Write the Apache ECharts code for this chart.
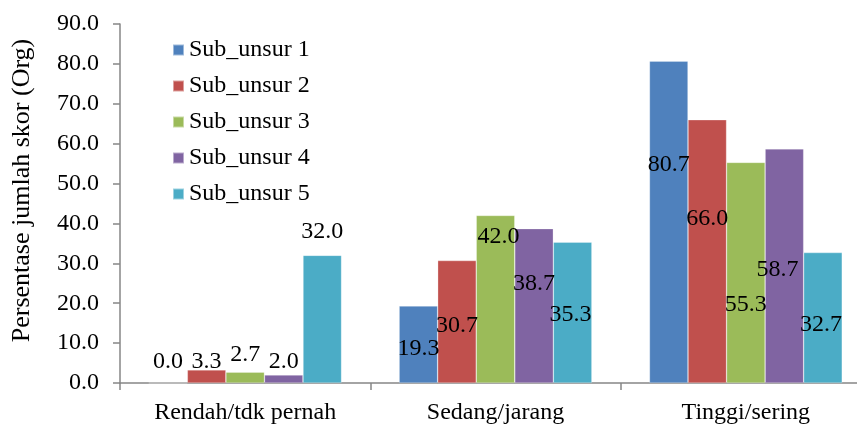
<!DOCTYPE html>
<html>
<head>
<meta charset="utf-8">
<script src="https://cdn.jsdelivr.net/npm/echarts@6/dist/echarts.min.js"></script>
<style>
  html, body { margin: 0; padding: 0; background: #fff; }
  #chart { width: 857px; height: 424px; }
</style>
</head>
<body>
<div id="chart"></div>
<script>
// Categories and series values
var categories = ['Rendah/tdk pernah', 'Sedang/jarang', 'Tinggi/sering'];
var seriesNames = ['Sub_unsur 1', 'Sub_unsur 2', 'Sub_unsur 3', 'Sub_unsur 4', 'Sub_unsur 5'];
var sub1 = [0.0, 19.3, 80.7];
var sub2 = [3.3, 30.7, 66.0];
var sub3 = [2.7, 42.0, 55.3];
var sub4 = [2.0, 38.7, 58.7];
var sub5 = [32.0, 35.3, 32.7];
var yTicks = [0, 10, 20, 30, 40, 50, 60, 70, 80, 90];

var seriesValues = [sub1, sub2, sub3, sub4, sub5];
var colors = ['#4F81BD', '#C0504D', '#9BBB59', '#8064A2', '#4BACC6'];

// Hand-placed data label nudges (px) per series, per category: [dx, dy] from the bar top
var labelNudge = [
  [[0, -10], [0, 54], [0, 115]],
  [[0, 3], [0, 76], [0, 110]],
  [[0, -7], [3, 32], [0, 153]],
  [[0, -2], [0, 66], [-7, 132]],
  [[0, -13], [-2, 84], [-2, 83]]
];

var FONT = 'Liberation Serif, Times New Roman, serif';
var FS = 24;
var axisGray = '#868686';

var series = seriesValues.map(function (vals, i) {
  return {
    name: seriesNames[i],
    type: 'bar',
    barGap: '0%',
    barCategoryGap: '23%',
    itemStyle: { color: colors[i], borderColor: 'rgba(255,255,255,0.45)', borderWidth: 0.6 },
    data: vals.map(function (v, j) {
      return {
        value: v,
        label: { offset: labelNudge[i][j] }
      };
    }),
    label: {
      show: true,
      position: 'top',
      distance: 0,
      color: '#000',
      fontFamily: FONT,
      fontSize: FS,
      lineHeight: 22,
      formatter: function (p) { return p.value.toFixed(1); }
    }
  };
});

var chart = echarts.init(document.getElementById('chart'), null, { renderer: 'canvas' });
chart.setOption({
  animation: false,
  color: colors,
  grid: { left: 120, top: 24, width: 751, height: 359, containLabel: false, outerBoundsMode: 'none' },
  legend: {
    orient: 'vertical',
    left: 172,
    top: 38,
    padding: 0,
    itemWidth: 11,
    itemHeight: 11,
    itemGap: 12,
    icon: 'rect',
    data: seriesNames,
    textStyle: { fontFamily: FONT, fontSize: FS, lineHeight: 24, color: '#000' }
  },
  xAxis: {
    type: 'category',
    data: categories,
    boundaryGap: true,
    axisLine: { lineStyle: { color: axisGray, width: 1.5 } },
    axisTick: { show: true, length: 7, alignWithLabel: false, lineStyle: { color: axisGray, width: 1.5 } },
    axisLabel: { margin: 18, color: '#000', fontFamily: FONT, fontSize: FS }
  },
  yAxis: {
    type: 'value',
    min: yTicks[0],
    max: yTicks[yTicks.length - 1],
    interval: yTicks[1] - yTicks[0],
    name: 'Persentase jumlah skor (Org)',
    nameLocation: 'middle',
    nameGap: 85,
    nameRotate: 90,
    nameTextStyle: { color: '#000', fontFamily: FONT, fontSize: 26, padding: [0, 0, 0, 26] },
    splitLine: { show: false },
    axisLine: { show: true, lineStyle: { color: axisGray, width: 1.5 } },
    axisTick: { show: true, length: 7, lineStyle: { color: axisGray, width: 1.5 } },
    axisLabel: {
      margin: 21,
      color: '#000',
      fontFamily: FONT,
      fontSize: FS,
      formatter: function (v) { return v.toFixed(1); }
    }
  },
  series: series
});
</script>
</body>
</html>
